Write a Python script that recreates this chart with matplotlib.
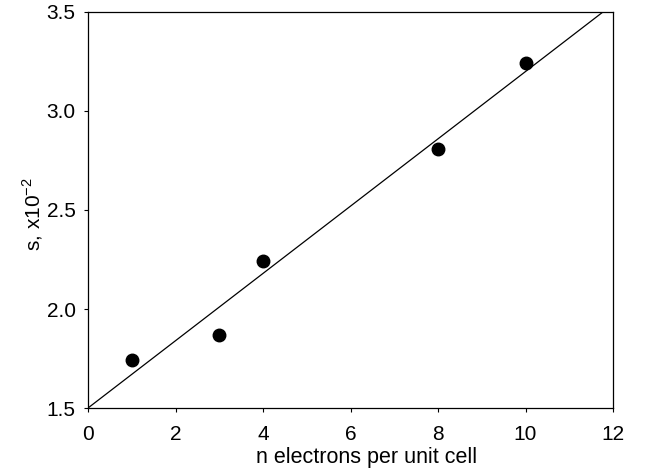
import matplotlib
matplotlib.use("Agg")
import matplotlib.pyplot as plt

plt.rcParams['font.family'] = ['Liberation Sans', 'DejaVu Sans']
plt.rcParams['mathtext.fontset'] = 'custom'
plt.rcParams['mathtext.rm'] = 'Liberation Sans'

# measured points
n_electrons = [1, 3, 4, 8, 10]
s_values = [1.74, 1.87, 2.24, 2.81, 3.24]

# fitted line, end points
fit_x = [0, 11.77]
fit_y = [1.5, 3.5]

fig = plt.figure(figsize=(6.5, 4.7), dpi=100)
ax = fig.add_axes([0.1354, 0.1319, 0.8077, 0.8426])

ax.plot(fit_x, fit_y, color="black", linewidth=0.9)
ax.plot(n_electrons, s_values, "o", color="black", markersize=9)

ax.set_xlim(0, 12)
ax.set_ylim(1.5, 3.5)
ax.set_xticks([0, 2, 4, 6, 8, 10, 12])
ax.set_yticks([1.5, 2.0, 2.5, 3.0, 3.5])
ax.set_yticklabels(["1.5", "2.0", "2.5", "3.0", "3.5"])
ax.tick_params(direction="out", length=3, width=0.8, labelsize=15)
ax.tick_params(axis="x", pad=9.5)
ax.tick_params(axis="y", pad=6)
ax.tick_params(top=False, right=False)
for sp in ax.spines.values():
    sp.set_linewidth(0.9)

ax.set_xlabel("n electrons per unit cell", fontsize=15.5)
ax.set_ylabel("s, x10$^{\\mathregular{-2}}$", fontsize=15)
ax.xaxis.set_label_coords(0.531, -0.098)
ax.yaxis.set_label_coords(-0.082, 0.49)

fig.savefig("out.png", dpi=100)
